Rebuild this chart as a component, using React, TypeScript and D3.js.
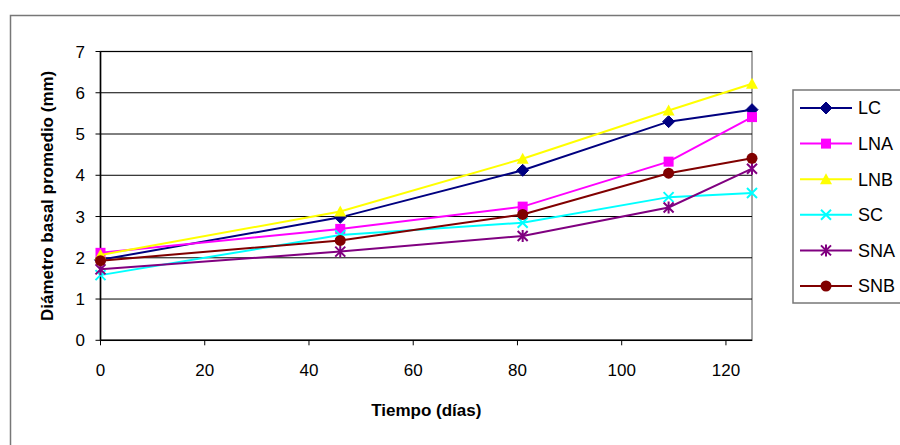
import React from "react";
import * as d3 from "d3";

const days = [0, 46, 81, 109, 125];
const seriesNames = ["LC", "LNA", "LNB", "SC", "SNA", "SNB"];
const LC = [1.95, 2.98, 4.12, 5.3, 5.59];
const LNA = [2.12, 2.7, 3.24, 4.33, 5.41];
const LNB = [2.07, 3.12, 4.4, 5.57, 6.22];
const SC = [1.58, 2.55, 2.85, 3.47, 3.57];
const SNA = [1.72, 2.15, 2.53, 3.22, 4.16];
const SNB = [1.93, 2.42, 3.05, 4.05, 4.41];
const seriesValues = [LC, LNA, LNB, SC, SNA, SNB];
const colors = ["#000080", "#FF00FF", "#FFFF00", "#00FFFF", "#800080", "#800000"];
const markers = ["diamond", "square", "triangle", "x", "asterisk", "circle"];
const xTicks = [0, 20, 40, 60, 80, 100, 120];
const yTicks = [0, 1, 2, 3, 4, 5, 6, 7];
const xTitle = "Tiempo (días)";
const yTitle = "Diámetro basal promedio (mm)";

function Marker({ type, x, y, color }: { type: string; x: number; y: number; color: string }) {
  switch (type) {
    case "diamond":
      return <path d={`M${x},${y - 6}L${x + 6},${y}L${x},${y + 6}L${x - 6},${y}Z`} fill={color} stroke={color} />;
    case "square":
      return <rect x={x - 5} y={y - 5} width={10} height={10} fill={color} />;
    case "triangle":
      return <path d={`M${x},${y - 6}L${x + 6},${y + 5}L${x - 6},${y + 5}Z`} fill={color} />;
    case "x":
      return <path d={`M${x - 5},${y - 5}L${x + 5},${y + 5}M${x - 5},${y + 5}L${x + 5},${y - 5}`} stroke={color} strokeWidth={2} />;
    case "asterisk":
      return (
        <path
          d={`M${x - 5},${y - 5}L${x + 5},${y + 5}M${x - 5},${y + 5}L${x + 5},${y - 5}M${x},${y - 6}L${x},${y + 6}`}
          stroke={color}
          strokeWidth={2}
        />
      );
    default:
      return <circle cx={x} cy={y} r={5.5} fill={color} />;
  }
}

export default function App() {
  const W = 900;
  const H = 445;
  const x = d3.scaleLinear().domain([0, 125]).range([100.5, 752]);
  const y = d3.scaleLinear().domain([0, 7]).range([340.3, 51.5]);
  const line = d3
    .line<number>()
    .x((_, i) => x(days[i]))
    .y((d) => y(d));
  const font = "Arial, 'Liberation Sans', sans-serif";
  const legendX = 793;
  const legendY = 90;
  const rowH = 35.6;

  return (
    <svg width={W} height={H} style={{ position: "absolute", left: 0, top: 0 }} fontFamily={font}>
      <rect x={0} y={0} width={W} height={H} fill="#fff" />
      <rect x={10.5} y={15.5} width={W} height={H} fill="#fff" stroke="#777" strokeWidth={1.5} />
      {/* plot area */}
      <rect x={x(0)} y={y(7)} width={x(125) - x(0)} height={y(0) - y(7)} fill="#fff" stroke="#888" strokeWidth={1.5} />
      {yTicks.map((t) => (
        <g key={t}>
          {t > 0 && <line x1={x(0)} x2={x(125)} y1={y(t)} y2={y(t)} stroke="#000" strokeWidth={1} />}
          <line x1={x(0) - 5} x2={x(0)} y1={y(t)} y2={y(t)} stroke="#000" />
          <text x={85} y={y(t)} dy="0.36em" textAnchor="end" fontSize={17}>
            {t}
          </text>
        </g>
      ))}
      {xTicks.map((t) => (
        <g key={t}>
          <line x1={x(t)} x2={x(t)} y1={y(0)} y2={y(0) + 5} stroke="#000" />
          <text x={x(t)} y={376} textAnchor="middle" fontSize={17}>
            {t}
          </text>
        </g>
      ))}
      <line x1={x(0)} x2={x(0)} y1={y(7)} y2={y(0)} stroke="#000" strokeWidth={1.5} />
      <line x1={x(0)} x2={x(125)} y1={y(0)} y2={y(0)} stroke="#000" strokeWidth={1.5} />
      {seriesValues.map((vals, si) => (
        <g key={seriesNames[si]}>
          <path d={line(vals) || ""} fill="none" stroke={colors[si]} strokeWidth={2} />
          {vals.map((v, i) => (
            <Marker key={i} type={markers[si]} x={x(days[i])} y={y(v)} color={colors[si]} />
          ))}
        </g>
      ))}
      <text x={(x(0) + x(125)) / 2} y={416} textAnchor="middle" fontSize={17} fontWeight="bold">
        {xTitle}
      </text>
      <text
        transform={`translate(53,${(y(0) + y(7)) / 2}) rotate(-90)`}
        textAnchor="middle"
        fontSize={17}
        fontWeight="bold"
      >
        {yTitle}
      </text>
      {/* legend */}
      <rect x={legendX} y={legendY} width={W} height={213} fill="#fff" stroke="#777" strokeWidth={1.5} />
      {seriesNames.map((n, i) => {
        const cy = legendY + 18 + i * rowH;
        return (
          <g key={n}>
            <line x1={800} x2={852} y1={cy} y2={cy} stroke={colors[i]} strokeWidth={2} />
            <Marker type={markers[i]} x={826} y={cy} color={colors[i]} />
            <text x={858} y={cy} dy="0.36em" fontSize={18}>
              {n}
            </text>
          </g>
        );
      })}
    </svg>
  );
}
